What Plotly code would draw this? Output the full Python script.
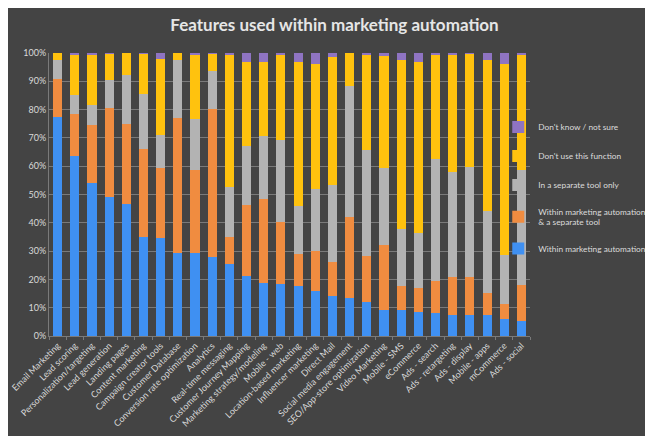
import plotly.graph_objects as go

categories = ["Email Marketing", "Lead scoring", "Personalization/targeting", "Lead generation",
              "Landing pages", "Content marketing", "Campaign creator tools", "Customer Database",
              "Conversion rate optimization", "Analytics", "Real-time messaging",
              "Customer Journey Mapping", "Marketing strategy/modeling", "Mobile - web",
              "Location-based marketing", "Influencer marketing", "Direct Mail",
              "Social media engagement", "SEO/App-store optimization", "Video Marketing",
              "Mobile - SMS", "eCommerce", "Ads - search", "Ads - retargeting", "Ads - display",
              "Mobile - apps", "mCommerce", "Ads - social"]

# segment sizes (percent)
within_ma = [77.4, 63.7, 54.0, 49.1, 46.7, 35.0, 34.6, 29.2, 29.2, 27.9, 25.6, 21.3, 18.9, 18.4,
             17.8, 16.0, 14.2, 13.6, 11.9, 9.2, 9.2, 8.6, 8.0, 7.4, 7.4, 7.4, 6.0, 5.4]
within_ma_sep = [13.3, 14.8, 20.4, 31.4, 28.3, 31.0, 24.7, 47.8, 29.5, 52.3, 9.5, 25.0, 29.6, 21.8,
                 11.2, 14.2, 12.1, 28.6, 16.2, 23.0, 8.5, 8.3, 11.6, 13.6, 13.4, 7.9, 5.3, 12.6]
separate_only = [6.9, 6.5, 7.1, 9.9, 17.1, 19.5, 11.6, 20.5, 18.0, 13.6, 17.4, 21.0, 22.0, 29.1,
                 16.8, 21.8, 27.1, 46.0, 37.7, 27.1, 20.2, 19.4, 43.0, 36.9, 38.9, 28.7, 17.4, 40.5]
dont_use = [2.4, 14.5, 17.7, 9.4, 7.9, 14.3, 27.1, 2.5, 22.5, 6.0, 46.7, 29.4, 26.2, 29.9,
            51.0, 44.1, 45.2, 11.8, 33.8, 39.8, 59.7, 60.4, 37.0, 41.3, 40.1, 53.6, 67.4, 40.7]
dont_know = [0.0, 0.5, 0.8, 0.2, 0.0, 0.2, 2.0, 0.0, 0.8, 0.2, 0.8, 3.3, 3.3, 0.8,
             3.2, 3.9, 1.4, 0.0, 0.4, 0.9, 2.4, 3.3, 0.4, 0.8, 0.2, 2.4, 3.9, 0.8]

series = [
    ("Within marketing automation", within_ma, "#3f90f2"),
    ("Within marketing automation<br>& a separate tool", within_ma_sep, "#f08c40"),
    ("In a separate tool only", separate_only, "#b3b3b3"),
    ("Don't use this function", dont_use, "#ffc20e"),
    ("Don't know / not sure", dont_know, "#8f74c2"),
]

fig = go.Figure()
n = len(series)
for i, (name, vals, color) in enumerate(series):
    fig.add_trace(go.Bar(x=categories, y=[v / 100 for v in vals], name=name,
                         legendgroup=f"g{i}", legendrank=n - i,
                         marker=dict(color=color, line=dict(width=0))))

fig.update_layout(
    width=653, height=436,
    barmode="stack", bargap=0.47,
    paper_bgcolor="#444444", plot_bgcolor="#444444",
    margin=dict(l=41, r=131, t=45, b=108, autoexpand=False),
    title=dict(text="<b>Features used within marketing automation</b>", x=0.5, xanchor="center",
               y=0.962, yanchor="middle",
               font=dict(family="Lato, Open Sans, sans-serif", size=17, color="#e6e6e6")),
    font=dict(family="Lato, Open Sans, sans-serif", color="#d9d9d9"),
    legend=dict(traceorder="grouped", x=0.934, xanchor="left", y=0.79, yanchor="top",
                font=dict(size=8.3, color="#dcdcdc"), tracegroupgap=10, itemwidth=30,
                bgcolor="rgba(0,0,0,0)"),
    showlegend=True,
)
fig.update_yaxes(range=[0, 1], tickformat=".0%", dtick=0.1, gridcolor="#7a7a7a", gridwidth=1,
                 tickfont=dict(size=9, color="#d9d9d9"), zeroline=False, automargin=False,
                 showline=True, linecolor="#7a7a7a", ticks="", ticklen=0)
fig.update_xaxes(tickangle=-45, tickfont=dict(size=9, color="#d9d9d9"), automargin=False,
                 showline=True, linecolor="#7a7a7a", ticks="outside", ticklen=3,
                 tickcolor="#7a7a7a", tickson="boundaries", range=[-0.5, 27.5])

fig.write_html("out.html")
